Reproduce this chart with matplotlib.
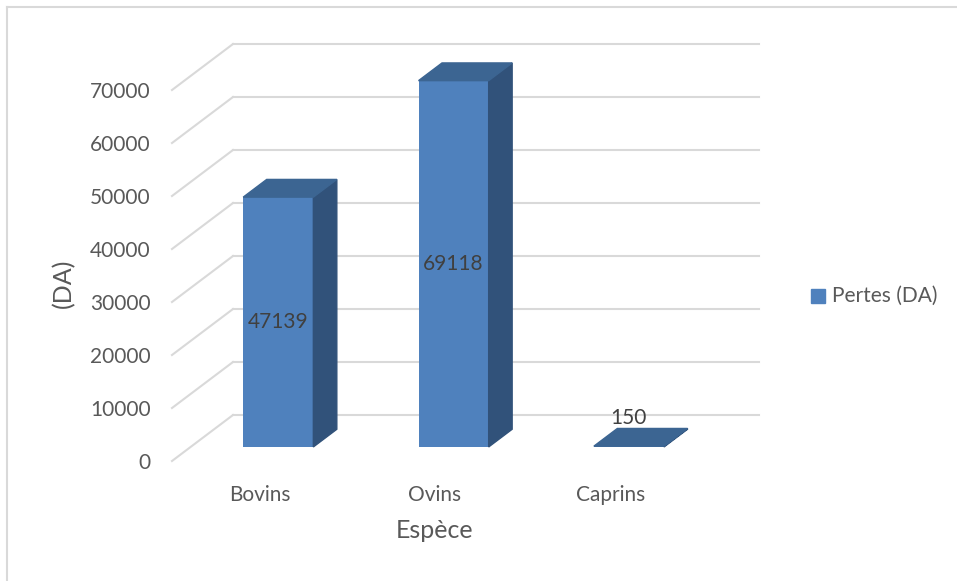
import matplotlib.pyplot as plt
from matplotlib.patches import Polygon, Rectangle
from matplotlib.lines import Line2D

plt.rcParams['font.family'] = ['Lato', 'DejaVu Sans']

especes = ['Bovins', 'Ovins', 'Caprins']
pertes = [47139, 69118, 150]
yticks = [0, 10000, 20000, 30000, 40000, 50000, 60000, 70000]

W, H = 957, 581
fig = plt.figure(figsize=(W / 100, H / 100), dpi=100)

# front plane of the plot area, in pixels
left, right, bottom, top = 172, 698, 461, 90
ax = fig.add_axes([left / W, 1 - bottom / H, (right - left) / W, (bottom - top) / H])
ax.set_xlim(-0.5, 2.5)
ax.set_ylim(0, 70000)

# depth of the 3d box, converted from pixels to data units
px_x = (right - left) / 3.0
px_y = (bottom - top) / 70000.0
dx = 61 / px_x
dy = 46 / px_y

grid_col = '#d9d9d9'
for v in yticks:
    ax.plot([-0.5 + dx, 2.5 + dx], [v + dy, v + dy], color=grid_col, lw=1.5, clip_on=False, zorder=1)
    ax.plot([-0.5, -0.5 + dx], [v, v + dy], color=grid_col, lw=1.5, clip_on=False, zorder=1)

# bars sit in the middle of the depth
d0, d1 = 0.305, 0.69
width = 0.4
front = '#4f81bd'
side = '#31527a'
topc = '#3c6592'
xs = [i + d0 * dx for i in range(len(pertes))]
ax.bar(xs, pertes, width=width, bottom=d0 * dy, color=front, zorder=3, clip_on=False)
for i, v in enumerate(pertes):
    x0 = i - width / 2 + d0 * dx
    x1 = i + width / 2 + d0 * dx
    y0 = d0 * dy
    y1 = v + d0 * dy
    ddx = (d1 - d0) * dx
    ddy = (d1 - d0) * dy
    ax.add_patch(Polygon([(x1, y0), (x1 + ddx, y0 + ddy), (x1 + ddx, y1 + ddy), (x1, y1)],
                         closed=True, color=side, zorder=3, clip_on=False))
    ax.add_patch(Polygon([(x0, y1), (x1, y1), (x1 + ddx, y1 + ddy), (x0 + ddx, y1 + ddy)],
                         closed=True, color=topc, zorder=3, clip_on=False))
    if v > 5000:
        ax.text(i + d0 * dx, y0 + v / 2, str(v), ha='center', va='center',
                fontsize=15, color='#404040', zorder=4)
    else:
        ax.text(i + d0 * dx, y1 + ddy, str(v), ha='center', va='bottom',
                fontsize=15, color='#404040', zorder=4)

for s in ax.spines.values():
    s.set_visible(False)
ax.set_yticks(yticks)
ax.set_yticklabels([str(t) for t in yticks])
ax.set_xticks(range(len(especes)))
ax.set_xticklabels(especes)
ax.tick_params(axis='y', length=0, pad=15.5, labelsize=15, labelcolor='#595959')
ax.tick_params(axis='x', length=0, pad=17, labelsize=15, labelcolor='#595959')

fig.text(64 / W, 1 - 283 / H, '(DA)', rotation=90, ha='center', va='center',
         fontsize=18, color='#595959')
fig.text(435 / W, 1 - 531 / H, 'Espèce', ha='center', va='center',
         fontsize=18, color='#595959')

# legend
fig.add_artist(Rectangle((811 / W, 1 - 303 / H), 14 / W, 14 / H, color=front))
fig.text(832 / W, 1 - 296 / H, 'Pertes (DA)', ha='left', va='center',
         fontsize=15, color='#595959')

# chart border (left and top edges visible)
fig.add_artist(Line2D([7 / W, 7 / W], [0, 1 - 7 / H], color=grid_col, lw=1.5))
fig.add_artist(Line2D([7 / W, 1], [1 - 7 / H, 1 - 7 / H], color=grid_col, lw=1.5))

fig.savefig('out.png', dpi=100)
